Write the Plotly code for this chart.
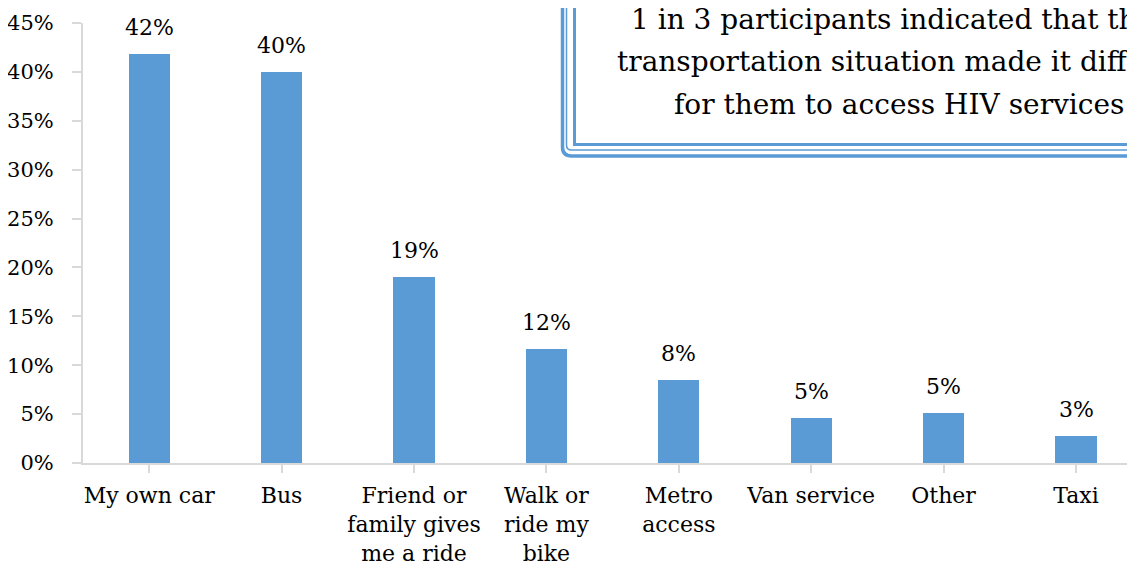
import plotly.graph_objects as go

categories = ["My own car", "Bus", "Friend or<br>family gives<br>me a ride", "Walk or<br>ride my<br>bike",
              "Metro<br>access", "Van service", "Other", "Taxi"]
values = [41.8, 40.0, 19.0, 11.7, 8.5, 4.6, 5.1, 2.8]
labels = ["42%", "40%", "19%", "12%", "8%", "5%", "5%", "3%"]
y_ticks = [0, 5, 10, 15, 20, 25, 30, 35, 40, 45]
callout_lines = ["1 in 3 participants indicated that their",
                 "transportation situation made it difficult",
                 "for them to access HIV services."]

# page body adds an 8px margin, so work in reference pixels and shift
OFF = 8
W, H = 1135 - OFF, 571 - OFF
L, R, T = 83 - OFF, 0, 23 - OFF
B = H - (463 - OFF)
FONT = "DejaVu Serif"
BLUE = "#5B9BD5"
AXIS = "#D9D9D9"


def px_x(v):
    return (v - OFF - L) / (W - L - R)


def px_y(v):
    return (H - B - (v - OFF)) / (H - T - B)


fig = go.Figure()
fig.add_trace(go.Bar(
    x=list(range(len(categories))),
    y=values,
    width=0.31,
    marker=dict(color=BLUE, line=dict(width=0)),
    hoverinfo="skip",
))

for i, (v, lab) in enumerate(zip(values, labels)):
    fig.add_annotation(x=i, y=v, text=lab, showarrow=False, yanchor="bottom",
                       yshift=12, font=dict(family=FONT, size=22, color="#000000"))

# callout box with triple blue border
far_r, far_t = px_x(1250), px_y(-60)
borders = [(562.5, 156, 3.5, 9), (566.5, 150, 1.5, 5), (574.5, 144.5, 3, 0)]
for bx, by, lw, r in borders:
    x0, y0 = px_x(bx), px_y(by)
    if r:
        xr, yr = px_x(bx + r), px_y(by - r)
        path = f"M {x0},{far_t} L {x0},{yr} Q {x0},{y0} {xr},{y0} L {far_r},{y0}"
    else:
        path = f"M {x0},{far_t} L {x0},{y0} L {far_r},{y0}"
    fig.add_shape(type="path", path=path, xref="paper", yref="paper",
                  line=dict(color=BLUE, width=lw), layer="above")

for k, line in enumerate(callout_lines):
    fig.add_annotation(x=px_x(903), y=px_y(20 + 42 * k), xref="paper", yref="paper", text=line,
                       showarrow=False, xanchor="center", yanchor="middle",
                       font=dict(family=FONT, size=28, color="#000000"))

fig.update_layout(
    width=W, height=H,
    margin=dict(l=L, r=R, t=T, b=B, pad=0),
    paper_bgcolor="white", plot_bgcolor="white",
    showlegend=False,
    font=dict(family=FONT, size=22, color="#000000"),
    bargap=0,
)
fig.update_xaxes(
    range=[-0.5, -0.5 + (W - L - R) / 132.4],
    tickmode="array", tickvals=list(range(len(categories))), ticktext=categories,
    tickson="boundaries", ticks="outside", ticklen=8, tickcolor=AXIS, tickwidth=2,
    showline=True, linecolor=AXIS, linewidth=2, showgrid=False, zeroline=False,
    ticklabelstandoff=4,
    tickfont=dict(family=FONT, size=22, color="#000000"),
)
fig.update_yaxes(
    range=[0, 45], tickmode="array", tickvals=y_ticks, ticktext=[f"{t}%" for t in y_ticks],
    ticks="outside", ticklen=9, tickcolor=AXIS, tickwidth=2,
    showline=True, linecolor=AXIS, linewidth=2, showgrid=False, zeroline=False,
    ticklabelstandoff=14,
    tickfont=dict(family=FONT, size=21, color="#000000"),
)

fig.write_html("out.html")
